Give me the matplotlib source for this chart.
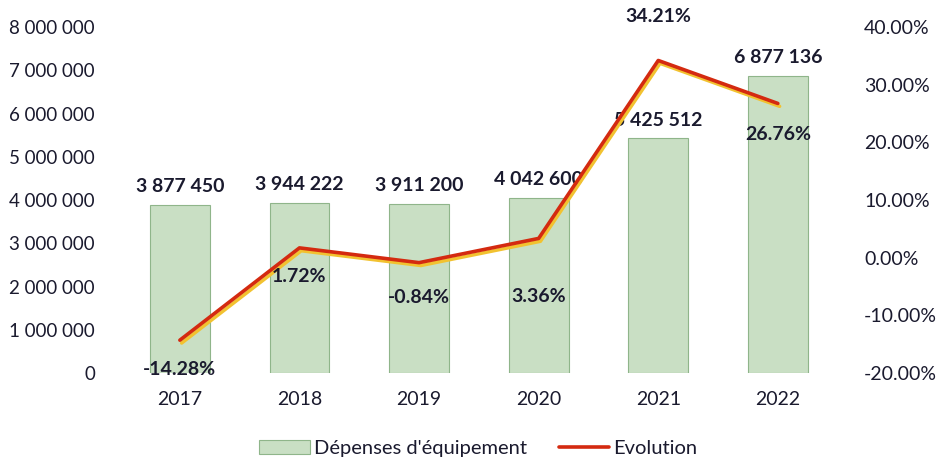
import numpy as np
import matplotlib.pyplot as plt
from matplotlib.ticker import FuncFormatter

plt.rcParams['font.family'] = ['Lato', 'DejaVu Sans']

years = ['2017', '2018', '2019', '2020', '2021', '2022']
depenses = [3877450, 3944222, 3911200, 4042600, 5425512, 6877136]
evolution = [-14.28, 1.72, -0.84, 3.36, 34.21, 26.76]

txt = '#1a1a2e'
bar_face = '#c9dfc4'
bar_edge = '#8fb58a'
red = '#d42a10'

def fmt_space(v):
    return f'{int(v):,}'.replace(',', ' ')

fig = plt.figure(figsize=(9.38, 4.59), dpi=100)
ax = fig.add_axes([0.128, 0.187, 0.765, 0.754])
ax2 = ax.twinx()

x = np.arange(len(years))
ax.bar(x, depenses, width=0.5, color=bar_face, edgecolor=bar_edge, linewidth=0.8,
       label="Dépenses d'équipement", zorder=2)
for xi, v in zip(x, depenses):
    ax.text(xi, v + 230000, fmt_space(v), ha='center', va='bottom', fontsize=14,
            color=txt, fontweight='bold')

ax.set_ylim(0, 8000000)
ax.set_xlim(-0.5, len(years) - 0.5)
ax.set_yticks(np.arange(0, 8000001, 1000000))
ax.yaxis.set_major_formatter(FuncFormatter(lambda v, p: fmt_space(v)))
ax.set_xticks(x)
ax.set_xticklabels(years)

ax2.plot(x + 0.015, [e - 0.5 for e in evolution], color='#f2c230', linewidth=2.5, zorder=3,
         solid_capstyle='round')
line, = ax2.plot(x, evolution, color=red, linewidth=2.6, zorder=4, label='Evolution',
                 solid_capstyle='round')
ax2.set_ylim(-20, 40)
ax2.set_yticks(np.arange(-20, 41, 10))
ax2.yaxis.set_major_formatter(FuncFormatter(lambda v, p: f'{v:.2f}%'))

offsets = [-5.0, -5.0, -6.0, -10.0, 6.2, -5.3]
for xi, e, off in zip(x, evolution, offsets):
    ax2.text(xi, e + off, f'{e:.2f}%', ha='center',
             va='bottom' if off > 0 else 'center', fontsize=14, color=txt,
             fontweight='bold', zorder=5)

for a in (ax, ax2):
    for s in a.spines.values():
        s.set_visible(False)
    a.tick_params(length=0, labelsize=13.5, colors=txt)
ax.tick_params(axis='y', pad=18)
ax.tick_params(axis='x', pad=13, labelsize=14)
ax2.tick_params(axis='y', pad=19, labelsize=14)

h1, l1 = ax.get_legend_handles_labels()
fig.legend(h1 + [line], l1 + ['Evolution'], loc='lower center', ncol=2, frameon=False,
           fontsize=14.5, bbox_to_anchor=(0.51, -0.035), handlelength=2.5,
           handletextpad=0.2, columnspacing=1.6, labelcolor=txt)

fig.savefig('out.png', dpi=100)
